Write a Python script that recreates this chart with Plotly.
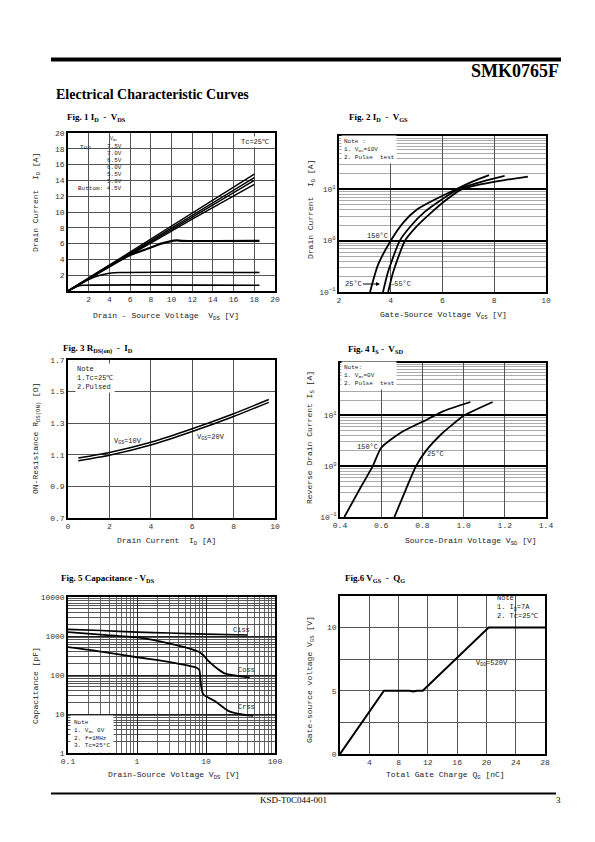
import plotly.graph_objects as go

W, H = 595, 842
MONO = "Liberation Mono"
SERIF = "Liberation Serif"

# ---------------- data ----------------
# Fig 1  ID - VDS
fig1_vds_rise = [0, 6, 12, 18]
fig1_id_7v5 = [0, 4.95, 9.9, 14.8]
fig1_id_7v0 = [0, 4.8, 9.6, 14.35]
fig1_id_6v5 = [0, 4.7, 9.4, 14.0]
fig1_id_6v0 = [0, 4.6, 9.1, 13.5]
fig1_vds_5v5 = [0, 2, 4, 6, 8, 9, 10.5, 11, 18.5]
fig1_id_5v5 = [0, 1.6, 3.2, 4.55, 5.5, 6.0, 6.42, 6.35, 6.35]
fig1_vds_5v0 = [0, 2, 3, 4, 5, 18.5]
fig1_id_5v0 = [0, 1.45, 1.95, 2.25, 2.35, 2.35]
fig1_vds_4v5 = [0, 1, 1.5, 18.5]
fig1_id_4v5 = [0, 0.62, 0.72, 0.72]
fig1_vgs_legend = ["7.5V", "7.0V", "6.5V", "6.0V", "5.5V", "5.0V", "4.5V"]
fig1_ticks = [2, 4, 6, 8, 10, 12, 14, 16, 18, 20]

# Fig 2  ID - VGS
fig2_vgs_150 = [3.2, 3.5, 4.0, 4.5, 5.0, 5.5, 6.0, 6.6, 7.2, 7.8]
fig2_id_150 = [0.1, 0.33, 1.0, 2.3, 4.0, 5.6, 7.5, 10.5, 14.5, 19]
fig2_vgs_25 = [3.7, 3.9, 4.35, 4.8, 5.3, 6.0, 6.6, 7.5, 8.4]
fig2_id_25 = [0.1, 0.25, 1.0, 2.0, 3.6, 6.5, 10, 14, 18.3]
fig2_vgs_m55 = [3.9, 4.1, 4.55, 5.0, 5.5, 6.1, 6.7, 7.5, 8.4, 9.3]
fig2_id_m55 = [0.1, 0.25, 1.0, 1.9, 3.3, 6.0, 9.8, 12.6, 15.2, 17.8]
fig2_x_ticks = [2, 4, 6, 8, 10]

# Fig 3  RDS(on) - ID
fig3_id = [0.5, 2, 4, 6, 8, 9.7]
fig3_r_10v = [1.08, 1.115, 1.18, 1.265, 1.36, 1.45]
fig3_r_20v = [1.062, 1.097, 1.162, 1.247, 1.342, 1.432]
fig3_x_ticks = [0, 2, 4, 6, 8, 10]
fig3_y_ticks = [0.7, 0.9, 1.1, 1.3, 1.5, 1.7]

# Fig 4  IS - VSD
fig4_vsd_150 = [0.421, 0.5, 0.559, 0.6, 0.7, 0.826, 0.9, 1.033]
fig4_is_150 = [0.1, 0.38, 1.0, 2.3, 4.7, 8.4, 12.0, 18.3]
fig4_vsd_25 = [0.664, 0.72, 0.769, 0.817, 0.89, 0.95, 1.004, 1.141]
fig4_is_25 = [0.1, 0.35, 1.0, 2.0, 4.2, 6.8, 10, 18.3]
fig4_x_ticks = [0.4, 0.6, 0.8, 1.0, 1.2, 1.4]

# Fig 5  Capacitance - VDS
fig5_vds_ciss = [0.1, 0.3, 1, 3, 10, 40]
fig5_ciss = [1480, 1380, 1260, 1190, 1120, 1060]
fig5_vds_coss = [0.1, 0.3, 1, 3, 7.7, 9, 10.8, 15, 19, 43]
fig5_coss = [1250, 1080, 920, 640, 400, 330, 230, 140, 108, 86]
fig5_vds_crss = [0.1, 0.3, 1, 3, 7.3, 8.0, 8.4, 9.1, 13.4, 21, 30, 48]
fig5_crss = [520, 400, 285, 215, 154, 135, 60, 32, 21.5, 12, 10, 9]
fig5_x_ticks = [0.1, 1, 10, 100]
fig5_y_ticks = [1, 10, 100, 1000, 10000]

# Fig 6  VGS - QG
fig6_qg = [0, 6, 9.5, 10, 10.5, 11.3, 20.3, 28]
fig6_vgs = [0, 5, 5, 4.95, 5, 5, 10, 10]
fig6_x_ticks = [4, 8, 12, 16, 20, 24, 28]

# ---------------- helpers ----------------
def dx(l, r):
    return [l / W, r / W]


def dy(t, b):
    return [1 - b / H, 1 - t / H]


def px(x):
    return x / W


def py(y):
    return 1 - y / H


TICKFONT = dict(family=MONO, size=8, color="#333")


def base_axis(domain, anchor, **kw):
    d = dict(domain=domain, anchor=anchor, showline=True, mirror=True,
             linecolor="black", linewidth=1.5, zeroline=False, automargin=False,
             showgrid=True, gridcolor="#555", gridwidth=0.8,
             ticks="", tickfont=TICKFONT)
    d.update(kw)
    return d


LOGMINOR = dict(dtick="D1", showgrid=True, gridcolor="#aaa", gridwidth=0.7, ticks="")

fig = go.Figure()


def line(x, y, ax, width=1.5, shape="spline"):
    fig.add_trace(go.Scatter(x=x, y=y, xaxis="x" + ax, yaxis="y" + ax,
                             mode="lines", showlegend=False, hoverinfo="skip",
                             line=dict(color="black", width=width, shape=shape,
                                       smoothing=0.6)))


# Fig 1
for ys in [fig1_id_7v5, fig1_id_7v0, fig1_id_6v5, fig1_id_6v0]:
    line(fig1_vds_rise, ys, "", 1.4, "linear")
line(fig1_vds_5v5, fig1_id_5v5, "", 2.2)
line(fig1_vds_5v0, fig1_id_5v0, "", 1.6)
line(fig1_vds_4v5, fig1_id_4v5, "", 1.6)
# Fig 2
line(fig2_vgs_150, fig2_id_150, "2", 1.8)
line(fig2_vgs_25, fig2_id_25, "2", 1.8)
line(fig2_vgs_m55, fig2_id_m55, "2", 1.8)
# Fig 3
line(fig3_id, fig3_r_10v, "3", 1.5)
line(fig3_id, fig3_r_20v, "3", 1.5)
# Fig 4
line(fig4_vsd_150, fig4_is_150, "4", 1.8)
line(fig4_vsd_25, fig4_is_25, "4", 1.8)
# Fig 5
line(fig5_vds_ciss, fig5_ciss, "5", 1.6)
line(fig5_vds_coss, fig5_coss, "5", 1.8)
line(fig5_vds_crss, fig5_crss, "5", 1.8)
# Fig 6
line(fig6_qg, fig6_vgs, "6", 2.0, "linear")

layout = dict(
    template="none",
    width=W, height=H, margin=dict(l=0, r=0, t=0, b=0, autoexpand=False),
    paper_bgcolor="white", plot_bgcolor="white", showlegend=False,
)

SUPT = ["10<sup>−1</sup>", "10<sup>0</sup>", "10<sup>1</sup>"]

# Fig 1 axes
layout["xaxis"] = base_axis(dx(60, 267), "y", range=[0, 20], tickmode="array",
                            tickvals=fig1_ticks)
layout["yaxis"] = base_axis(dy(125, 283), "x", range=[0, 20], tickmode="array",
                            tickvals=fig1_ticks)
# Fig 2 axes
layout["xaxis2"] = base_axis(dx(331, 538), "y2", range=[2, 10], tickmode="array",
                             tickvals=fig2_x_ticks)
layout["yaxis2"] = base_axis(dy(128, 284), "x2", type="log", range=[-1, 2.04],
                             tickmode="array", tickvals=[0.1, 1, 10], ticktext=SUPT,
                             gridcolor="black", gridwidth=1.8, minor=LOGMINOR)
# Fig 3 axes
layout["xaxis3"] = base_axis(dx(60, 267), "y3", range=[0, 10], tickmode="array",
                             tickvals=fig3_x_ticks)
layout["yaxis3"] = base_axis(dy(352, 510), "x3", range=[0.7, 1.7], tickmode="array",
                             tickvals=fig3_y_ticks,
                             ticktext=[f"{v:.1f}" for v in fig3_y_ticks])
# Fig 4 axes
layout["xaxis4"] = base_axis(dx(332, 538), "y4", range=[0.4, 1.4], tickmode="array",
                             tickvals=fig4_x_ticks,
                             ticktext=[f"{v:.1f}" for v in fig4_x_ticks])
layout["yaxis4"] = base_axis(dy(355, 509), "x4", type="log", range=[-1, 2.03],
                             tickmode="array", tickvals=[0.1, 1, 10], ticktext=SUPT,
                             gridcolor="black", gridwidth=1.8, minor=LOGMINOR)
# Fig 5 axes
layout["xaxis5"] = base_axis(dx(60, 267), "y5", type="log", range=[-1, 2],
                             tickmode="array", tickvals=fig5_x_ticks,
                             ticktext=["0.1", "1", "10", "100"],
                             gridcolor="#222", gridwidth=0.9,
                             minor=dict(LOGMINOR, gridcolor="#666", gridwidth=0.6))
layout["yaxis5"] = base_axis(dy(589, 745), "x5", type="log", range=[0, 4],
                             tickmode="array", tickvals=fig5_y_ticks,
                             ticktext=["1", "10", "100", "1000", "10000"],
                             gridcolor="#222", gridwidth=0.9,
                             minor=dict(LOGMINOR, gridcolor="#555", gridwidth=0.7))
# Fig 6 axes
layout["xaxis6"] = base_axis(dx(332, 537), "y6", range=[0, 28], tickmode="array",
                             tickvals=fig6_x_ticks)
layout["yaxis6"] = base_axis(dy(588, 746), "x6", range=[0, 12.5], tick0=0, dtick=5,
                             minor=dict(tick0=0, dtick=2.5, showgrid=True,
                                        gridcolor="#555", gridwidth=0.8, ticks=""))
fig.update_layout(**layout)

ann = []


def text_px(t, x, y, size=7, family=MONO, xanchor="center", angle=0, bg=None,
            color="#222", pad=1):
    a = dict(text=t, x=px(x), y=py(y), xref="paper", yref="paper",
             showarrow=False, xanchor=xanchor, yanchor="middle", align="left",
             font=dict(family=family, size=size, color=color), textangle=angle,
             borderpad=pad)
    if bg:
        a["bgcolor"] = bg
    ann.append(a)


def text_data(t, x, y, ax, size=7, xanchor="center"):
    ann.append(dict(text=t, x=x, y=y, xref="x" + ax, yref="y" + ax,
                    showarrow=False, xanchor=xanchor, yanchor="middle",
                    font=dict(family=MONO, size=size, color="#222")))


# page header
text_px("<b>SMK0765F</b>", 553, 63, size=18, family=SERIF, xanchor="right", color="black")
text_px("<b>Electrical Characteristic Curves</b>", 46, 86, size=14, family=SERIF,
        xanchor="left", color="black")
text_px("KSD-T0C044-001", 250, 792, size=9, family=SERIF, xanchor="left", color="black")
text_px("3", 546, 792, size=9, family=SERIF, xanchor="left", color="black")

# figure titles
TS = 9
text_px("<b>Fig. 1 I<sub>D</sub>  -  V<sub>DS</sub></b>", 57, 110, TS, SERIF, "left", color="black")
text_px("<b>Fig. 2 I<sub>D</sub>  -  V<sub>GS</sub></b>", 339, 110, TS, SERIF, "left", color="black")
text_px("<b>Fig. 3 R<sub>DS(on)</sub>  -  I<sub>D</sub></b>", 53, 341, TS, SERIF, "left", color="black")
text_px("<b>Fig. 4 I<sub>S</sub> -  V<sub>SD</sub></b>", 338, 341, TS, SERIF, "left", color="black")
text_px("<b>Fig. 5 Capacitance - V<sub>DS</sub></b>", 51, 570, TS, SERIF, "left", color="black")
text_px("<b>Fig.6 V<sub>GS</sub>  -  Q<sub>G</sub></b>", 335, 570, TS, SERIF, "left", color="black")

# axis titles
AT = 8
text_px("Drain - Source Voltage  V<sub>DS</sub> [V]", 158, 308, AT)
text_px("Drain Current  I<sub>D</sub> [A]", 28, 195, AT, angle=-90)
text_px("Gate-Source Voltage V<sub>GS</sub> [V]", 436, 307, AT)
text_px("Drain Current  I<sub>D</sub> [A]", 303, 202, AT, angle=-90)
text_px("Drain Current  I<sub>D</sub> [A]", 158, 533, AT)
text_px("ON-Resistance R<sub>DS(ON)</sub> [Ω]", 28, 431, AT, angle=-90)
text_px("Source-Drain Voltage V<sub>SD</sub> [V]", 463, 533, AT)
text_px("Reverse Drain Current I<sub>S</sub> [A]", 302, 430, AT, angle=-90)
text_px("Drain-Source Voltage V<sub>DS</sub> [V]", 166, 767, AT)
text_px("Capacitance [pF]", 27, 678, AT, angle=-90)
text_px("Total Gate Charge Q<sub>G</sub> [nC]", 437, 767, AT)
text_px("Gate-source voltage V<sub>GS</sub> [V]", 302, 672, AT, angle=-90)

# Fig 1 legend
text_px("V<sub>GS</sub>", 105, 131, 5)
text_px("Top", 70, 139, 6, xanchor="left")
for i, lab in enumerate(fig1_vgs_legend):
    yy = 138 + i * 7.1
    if i == len(fig1_vgs_legend) - 1:
        text_px("Buttom: " + lab, 116, yy, 6, xanchor="right")
    else:
        text_px(lab, 116, yy, 6, xanchor="right")
text_px("Tc=25℃", 247, 134, 7, bg="white")

# Fig 2 notes / labels
text_px("Note :<br>1. V<sub>DS</sub>=10V<br>2. Pulse  test", 333, 141, 6,
        xanchor="left", bg="white", pad=2)
text_data("150°C", 3.5, 0.09, "2", 7)
ann.append(dict(text="25°C", x=px(372), y=py(276), xref="paper", yref="paper",
                ax=-27, ay=0, showarrow=True, arrowhead=2, arrowsize=0.8,
                arrowwidth=1, arrowcolor="black",
                font=dict(family=MONO, size=7, color="#222")))
text_px("—55°C", 392, 276, 7)

# Fig 3 notes / labels
text_px("Note<br>1.Tc=25℃<br>2.Pulsed", 67, 370, 7, xanchor="left", bg="white")
text_data("V<sub>GS</sub>=10V", 2.9, 1.188, "3", 7)
text_data("V<sub>GS</sub>=20V", 6.9, 1.214, "3", 7)

# Fig 4 notes / labels
text_px("Note:<br>1. V<sub>GS</sub>=0V<br>2. Pulse  test", 333, 367, 6,
        xanchor="left", bg="white", pad=2)
text_data("150°C", 0.534, 0.386, "4", 7)
text_data("25°C", 0.865, 0.23, "4", 7)

# Fig 5 notes / labels
text_px("Note<br>1. V<sub>GS</sub> 0V<br>2. f=1MHz<br>3. Tc=25°C", 61.5, 726, 6,
        xanchor="left", bg="white", pad=3)
text_data("Ciss", 1.52, 3.16, "5", 7)
text_data("Coss", 1.59, 2.12, "5", 7)
text_data("Crss", 1.59, 1.19, "5", 7)

# Fig 6 notes / labels
text_px("Note<br>1. I<sub>D</sub>=7A<br>2. Tc=25℃", 487, 599, 7, xanchor="left")
text_data("V<sub>DD</sub>=520V", 20.7, 7.2, "6", 7)

fig.update_layout(annotations=ann)

# page rules (decoration)
fig.add_shape(type="rect", xref="paper", yref="paper", x0=px(43), x1=px(553),
              y0=py(53.5), y1=py(49.5), fillcolor="black", line_width=0)
fig.add_shape(type="line", xref="paper", yref="paper", x0=px(43), x1=px(548),
              y0=py(785.5), y1=py(785.5), line=dict(color="black", width=2.2))

fig.write_html("out.html")
